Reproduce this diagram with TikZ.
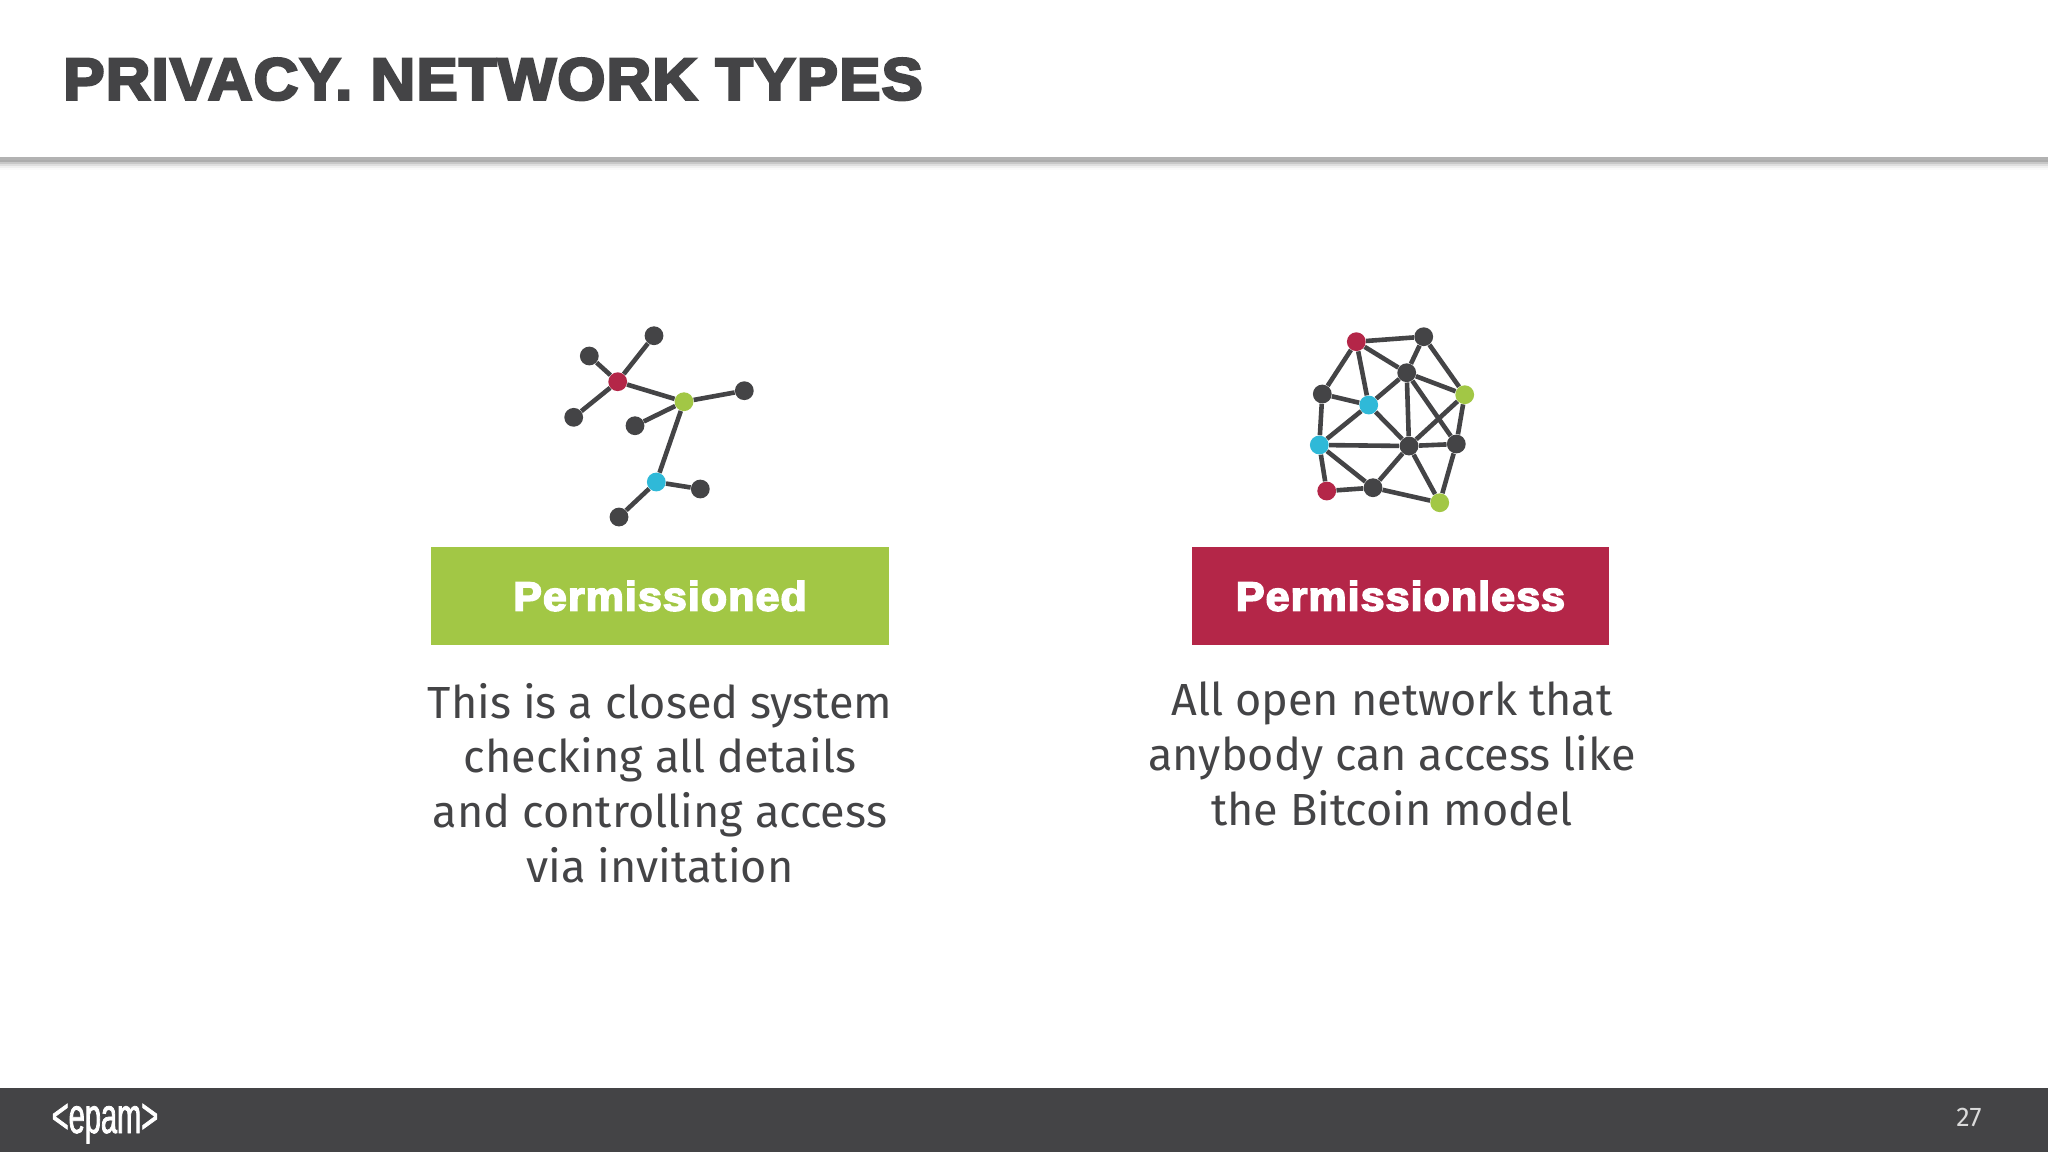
\documentclass[tikz,border=0pt]{standalone}
\usepackage{fontspec}
\setmainfont{Fira Sans}
\newfontfamily\titlefont[FakeBold=4.5,FakeStretch=1.045,LetterSpace=2.2]{Liberation Sans Bold}
\newfontfamily\boxfont[FakeBold=4,FakeStretch=1.05,LetterSpace=2.5]{Liberation Sans Bold}
\newfontfamily\logofont[FakeBold=1.5,FakeStretch=0.58]{Liberation Sans}
\definecolor{ink}{HTML}{444446}
\definecolor{netred}{HTML}{B42648}
\definecolor{netgreen}{HTML}{A2C745}
\definecolor{netblue}{HTML}{2FB9D8}
\tikzset{
  x=0.5pt,y=-0.5pt,
  dot/.style={circle,inner sep=0pt,minimum size=9.4pt,fill=#1,draw=none},
  dot/.default=ink,
  link/.style={draw=ink,line width=2.3pt},
  tag/.style={inner sep=0pt,text=white,font=\boxfont\fontsize{20.5}{25}\selectfont},
  para/.style={align=center,text=ink,font=\fontsize{22.5}{27.4}\selectfont},
}
\begin{document}
\begin{tikzpicture}
\useasboundingbox (0,0) rectangle (2048,1152);
\fill[white] (0,0) rectangle (2048,1152);
% header rule with soft shadow
\foreach \i/\o in {1/16,3/13,5/10,7/7,9/4,11/2} {\fill[black,opacity=0.\ifnum\o<10 0\fi\o] (0,157) rectangle (2048,159+\i);}
\fill[black!30] (0,156.5) rectangle (2048,160);
\node[anchor=base west,inner sep=0pt,text=ink,font=\titlefont\fontsize{29.5}{36}\selectfont] (title) at (63,99.5) {PRIVACY. NETWORK TYPES};
% footer
\fill[ink] (0,1088) rectangle (2048,1152);
\node[anchor=base,inner sep=0pt,text=white,font=\logofont\fontsize{25}{30}\selectfont] (logo) at (105,1133) {<epam>};
\node[anchor=base,inner sep=0pt,text=white!80!ink,font=\fontsize{13.5}{16}\selectfont] (page) at (1969,1126) {27};
% tags
\fill[netgreen] (431,547) rectangle (889,645);
\node[tag] (t1) at (660,596) {Permissioned};
\fill[netred] (1192,547) rectangle (1609,645);
\node[tag] (t2) at (1400.5,596) {Permissionless};
\node[para] (p1) at (660,783) {This is a closed system\\checking all details\\and controlling access\\via invitation};
\node[para] (p2) at (1392,754) {All open network that\\anybody can access like\\the Bitcoin model};
% network 1
\node[dot=netred] (a) at (617.7,381.7) {};
\node[dot] (a1) at (654,335.7) {};
\node[dot] (a2) at (589.3,356) {};
\node[dot] (a3) at (573.7,417.3) {};
\node[dot=netgreen] (b) at (684,401.7) {};
\node[dot] (b1) at (744.3,390.7) {};
\node[dot] (b2) at (635,425.7) {};
\node[dot=netblue] (c) at (656.3,482) {};
\node[dot] (c1) at (700.3,489) {};
\node[dot] (c2) at (619,517) {};
\foreach \u/\v in {a/a1,a/a2,a/a3,a/b,b/b1,b/b2,b/c,c/c1,c/c2} \draw[link] (\u) -- (\v);
% network 2
\node[dot=netred] (r1) at (1356.3,341.7) {};
\node[dot] (d1) at (1423.7,336.7) {};
\node[dot] (d2) at (1406.7,372.7) {};
\node[dot=netgreen] (g1) at (1464.7,394.7) {};
\node[dot] (d3) at (1322.3,394) {};
\node[dot=netblue] (l1) at (1368.7,405) {};
\node[dot=netblue] (l2) at (1319.3,445) {};
\node[dot] (d4) at (1409,446) {};
\node[dot] (d5) at (1456.3,444) {};
\node[dot=netred] (r2) at (1326.7,491) {};
\node[dot] (d6) at (1373,487.7) {};
\node[dot=netgreen] (g2) at (1439.7,502.7) {};
\foreach \u/\v in {r1/d1,r1/d2,r1/d3,r1/l1,d1/d2,d1/g1,d2/g1,d2/l1,d2/d4,d2/d5,d3/l1,d3/l2,l1/l2,l1/d4,l2/d4,l2/d6,l2/r2,r2/d6,d6/d4,d6/g2,d4/g1,d4/d5,d4/g2,g1/d5,d5/g2} \draw[link] (\u) -- (\v);
\end{tikzpicture}
\end{document}
